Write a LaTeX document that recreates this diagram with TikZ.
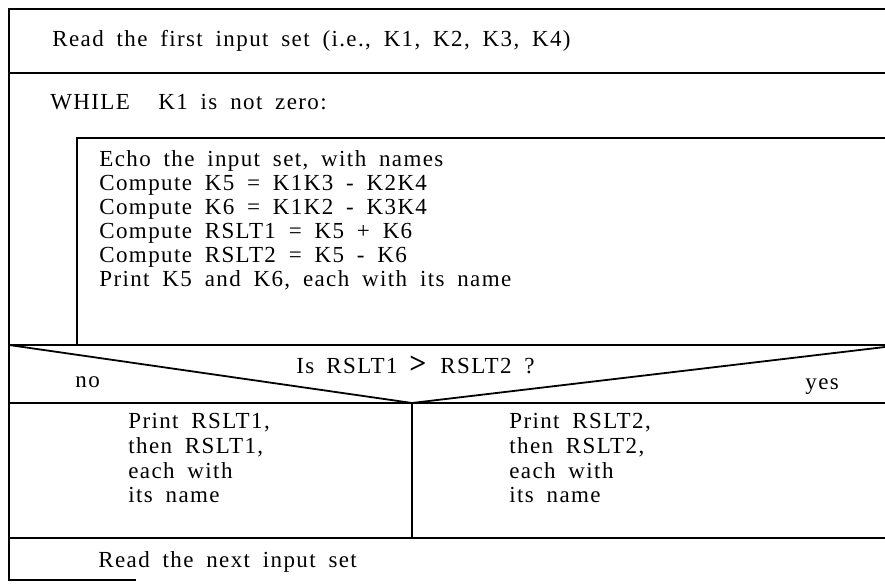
\documentclass[tikz,border=0pt]{standalone}
\usepackage{fontspec}
\setmainfont[LetterSpace=6,WordSpace={1.8,1,1}]{Liberation Serif}
\begin{document}
\begin{tikzpicture}[x=0.5pt,y=-0.5pt,
  rule/.style={line width=0.9pt, line cap=rect},
  txt/.style={anchor=base west, inner sep=0pt, font=\fontsize{11.5}{13}\selectfont}]
\useasboundingbox (0,0) rectangle (885,587);

% outer frame and horizontal rules
\draw[rule] (885,9) -- (9,9) -- (9,580) -- (135,580);
\draw[rule] (9,73) -- (885,73);
\draw[rule] (77,345) -- (77,138) -- (885,138);
\draw[rule] (9,345) -- (885,345);
% decision triangle
\coordinate (apex) at (412,403);
\draw[rule] (9,345) -- (apex) -- (885,347);
\draw[rule] (9,403) -- (885,403);
\draw[rule] (apex) -- (412,538);
\draw[rule] (9,538) -- (885,538);

% texts
\node[txt] (read1) at (52,47) {Read the first input set (i.e., K1, K2, K3, K4)};
\node[txt] (while) at (50,110) {WHILE};
\node[txt] (cond) at (158,110) {K1 is not zero:};

\node[txt] (l1) at (99,167) {Echo the input set, with names};
\node[txt] (l2) at (99,191) {Compute K5 = K1K3 - K2K4};
\node[txt] (l3) at (99,215) {Compute K6 = K1K2 - K3K4};
\node[txt] (l4) at (99,239) {Compute RSLT1 = K5 + K6};
\node[txt] (l5) at (99,263) {Compute RSLT2 = K5 - K6};
\node[txt] (l6) at (99,287) {Print K5 and K6, each with its name};

% decision question, split round the large comparison sign
\node[txt, anchor=base east] (q1) at (398,374) {Is\hspace{6pt}RSLT1};
\node[txt, anchor=base] (gt) at (418,374) {\fontsize{15}{15}\selectfont\bfseries >};
\node[txt] (q2) at (440,374) {RSLT2 ?};
\node[txt] (no) at (75,388) {no};
\node[txt] (yes) at (805,390) {yes};

\node[txt] (a1) at (128,429) {Print RSLT1,};
\node[txt] (a2) at (128,454) {then RSLT1,};
\node[txt] (a3) at (128,479) {each with};
\node[txt] (a4) at (128,503) {its name};

\node[txt] (b1) at (509,429) {Print RSLT2,};
\node[txt] (b2) at (509,454) {then RSLT2,};
\node[txt] (b3) at (509,479) {each with};
\node[txt] (b4) at (509,503) {its name};

\node[txt] (read2) at (98,568) {Read the next input set};
\end{tikzpicture}
\end{document}
